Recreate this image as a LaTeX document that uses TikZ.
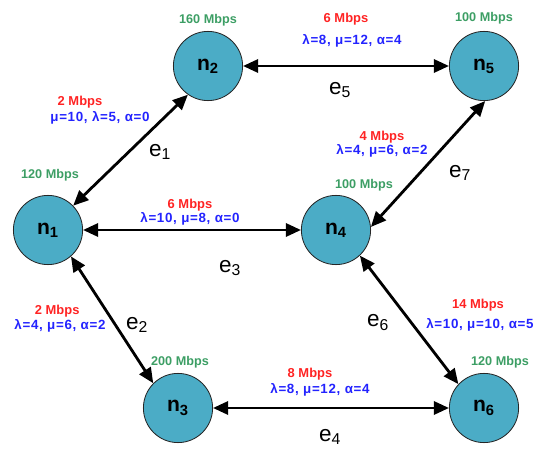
\documentclass[tikz,border=0pt]{standalone}
\usepackage{fontspec}
\setmainfont{Liberation Sans}
\usepackage{tikz}
\usetikzlibrary{arrows.meta}
\usepackage{xcolor}

\definecolor{nodeteal}{RGB}{75,172,198}
\definecolor{capgreen}{RGB}{60,158,100}
\definecolor{bwred}{RGB}{255,35,35}
\definecolor{parblue}{RGB}{35,35,255}

\tikzset{
    host/.style={draw=black!85, line width=0.6pt, circle, fill=nodeteal, minimum size=1.73cm, font=\fontsize{15}{17}\selectfont\bfseries},
    hostcap/.style={font=\fontsize{9}{10}\selectfont\bfseries, text=capgreen},
    bw/.style={font=\fontsize{9.2}{10}\selectfont\bfseries, text=bwred},
    par/.style={font=\fontsize{9.5}{10}\selectfont\bfseries\addfontfeature{LetterSpace=5}, text=parblue},
    elabel/.style={font=\fontsize{16}{18}\selectfont},
    link/.style={{Triangle[length=0.38cm,width=0.33cm]}-{Triangle[length=0.38cm,width=0.33cm]}, line width=2pt}
}

\begin{document}
\begin{tikzpicture}
    \useasboundingbox (0,0) rectangle (13.5,11.25);

    % Hosts
    \node[host] (n1) at (1.2,5.5) {n\textsubscript{1}};
    \node[host] (n2) at (5.2,9.6) {n\textsubscript{2}};
    \node[host] (n3) at (4.45,1.05) {n\textsubscript{3}};
    \node[host] (n4) at (8.4,5.5) {n\textsubscript{4}};
    \node[host] (n5) at (12.1,9.6) {n\textsubscript{5}};
    \node[host] (n6) at (12.1,1.05) {n\textsubscript{6}};

    % Host capacities
    \node[hostcap] (c1) at (1.25,6.88) {120 Mbps};
    \node[hostcap] (c2) at (5.2,10.75) {160 Mbps};
    \node[hostcap] (c3) at (4.5,2.2) {200 Mbps};
    \node[hostcap] (c4) at (9.1,6.63) {100 Mbps};
    \node[hostcap] (c5) at (12.1,10.8) {100 Mbps};
    \node[hostcap] (c6) at (12.5,2.2) {120 Mbps};

    % Links
    \draw[link] (n1.44) -- (n2.235);
    \draw[link] (n1.-49) -- (n3.135);
    \draw[link] (n1) -- (n4);
    \draw[link] (n3) -- (n6);
    \draw[link] (n2) -- (n5);
    \draw[link] (n4.-47) -- (n6.137);
    \draw[link] (n4.5) -- (n5.-88);

    % e1
    \node[bw] (b1) at (2.0,8.7) {2 Mbps};
    \node[par] (p1) at (2.5,8.3) {μ=10, λ=5, α=0};
    \node[elabel] (e1) at (4.0,7.45) {e\textsubscript{1}};

    % e2
    \node[bw] (b2) at (1.43,3.48) {2 Mbps};
    \node[par] (p2) at (1.5,3.1) {λ=4, μ=6, α=2};
    \node[elabel] (e2) at (3.43,3.13) {e\textsubscript{2}};

    % e3
    \node[bw] (b3) at (4.75,6.13) {6 Mbps};
    \node[par] (p3) at (4.75,5.78) {λ=10, μ=8, α=0};
    \node[elabel] (e3) at (5.75,4.55) {e\textsubscript{3}};

    % e4
    \node[bw] (b4) at (7.75,1.9) {8 Mbps};
    \node[par] (p4) at (8.0,1.5) {λ=8, μ=12, α=4};
    \node[elabel] (e4) at (8.25,0.33) {e\textsubscript{4}};

    % e5
    \node[bw] (b5) at (8.65,10.78) {6 Mbps};
    \node[par] (p5) at (8.8,10.22) {λ=8, μ=12, α=4};
    \node[elabel] (e5) at (8.5,9.0) {e\textsubscript{5}};

    % e6
    \node[bw] (b6) at (11.95,3.63) {14 Mbps};
    \node[par] (p6) at (12.0,3.13) {λ=10, μ=10, α=5};
    \node[elabel] (e6) at (9.45,3.18) {e\textsubscript{6}};

    % e7
    \node[bw] (b7) at (9.55,7.83) {4 Mbps};
    \node[par] (p7) at (9.55,7.48) {λ=4, μ=6, α=2};
    \node[elabel] (e7) at (11.5,6.93) {e\textsubscript{7}};

\end{tikzpicture}
\end{document}
